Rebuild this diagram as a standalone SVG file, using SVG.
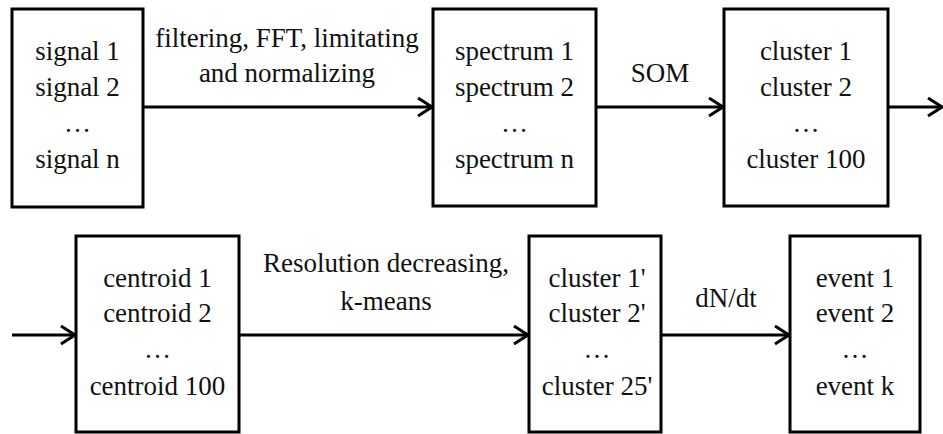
<svg xmlns="http://www.w3.org/2000/svg" width="943" height="434" viewBox="0 0 943 434" font-family="'Liberation Serif', 'Tinos', 'DejaVu Serif', serif">
  <style>
    .box { fill: #fff; stroke: #000; stroke-width: 3; }
    text { font-family: 'Liberation Serif', Tinos, 'DejaVu Serif', serif; }
    .lbl { font-size: 27px; fill: #111; text-anchor: middle; }
    .edge { fill: none; stroke: #000; stroke-width: 3; }
  </style>
  <defs>
    <marker id="arrow" markerUnits="userSpaceOnUse" markerWidth="20" markerHeight="24" refX="16" refY="10" orient="auto">
      <path d="M2,1 L16,10 L2,19" fill="none" stroke="#000" stroke-width="3" stroke-linejoin="miter"/>
    </marker>
  </defs>
  <rect width="943" height="434" fill="#fff"/>

  <!-- connectors -->
  <g id="connectors">
    <line class="edge" x1="143" y1="107" x2="432" y2="107" marker-end="url(#arrow)"/>
    <line class="edge" x1="596" y1="107" x2="723" y2="107" marker-end="url(#arrow)"/>
    <line class="edge" x1="888" y1="107" x2="942" y2="107" marker-end="url(#arrow)"/>
    <line class="edge" x1="12" y1="335" x2="75" y2="335" marker-end="url(#arrow)"/>
    <line class="edge" x1="239" y1="335" x2="528" y2="335" marker-end="url(#arrow)"/>
    <line class="edge" x1="661" y1="335" x2="789" y2="335" marker-end="url(#arrow)"/>
    <text class="lbl" x="287" y="47">filtering, FFT, limitating</text>
    <text class="lbl" x="287" y="82">and normalizing</text>
    <text class="lbl" x="660" y="82">SOM</text>
    <text class="lbl" x="386" y="272">Resolution decreasing,</text>
    <text class="lbl" x="386" y="310">k-means</text>
    <text class="lbl" x="726" y="307">dN/dt</text>
  </g>

  <!-- row 1 -->
  <g id="signals">
    <rect class="box" x="12" y="9" width="131" height="198"/>
    <text class="lbl" x="77.5" y="60">signal 1</text>
    <text class="lbl" x="77.5" y="96">signal 2</text>
    <text class="lbl" x="77.5" y="132">…</text>
    <text class="lbl" x="77.5" y="168">signal n</text>
  </g>
  <g id="spectra">
    <rect class="box" x="433" y="9" width="163" height="197"/>
    <text class="lbl" x="514.5" y="60">spectrum 1</text>
    <text class="lbl" x="514.5" y="96">spectrum 2</text>
    <text class="lbl" x="514.5" y="132">…</text>
    <text class="lbl" x="514.5" y="168">spectrum n</text>
  </g>
  <g id="clusters">
    <rect class="box" x="724" y="9" width="164" height="197"/>
    <text class="lbl" x="806" y="60">cluster 1</text>
    <text class="lbl" x="806" y="96">cluster 2</text>
    <text class="lbl" x="806" y="132">…</text>
    <text class="lbl" x="806" y="168">cluster 100</text>
  </g>

  <!-- row 2 -->
  <g id="centroids">
    <rect class="box" x="76" y="236" width="163" height="196"/>
    <text class="lbl" x="157.5" y="287">centroid 1</text>
    <text class="lbl" x="157.5" y="322">centroid 2</text>
    <text class="lbl" x="157.5" y="358">…</text>
    <text class="lbl" x="157.5" y="395">centroid 100</text>
  </g>
  <g id="reduced-clusters">
    <rect class="box" x="529" y="236" width="132" height="196"/>
    <text class="lbl" x="597" y="287">cluster 1'</text>
    <text class="lbl" x="597" y="322">cluster 2'</text>
    <text class="lbl" x="597" y="358">…</text>
    <text class="lbl" x="597" y="395">cluster 25'</text>
  </g>
  <g id="events">
    <rect class="box" x="790" y="236" width="130" height="196"/>
    <text class="lbl" x="855" y="287">event 1</text>
    <text class="lbl" x="855" y="322">event 2</text>
    <text class="lbl" x="855" y="358">…</text>
    <text class="lbl" x="855" y="395">event k</text>
  </g>
</svg>
